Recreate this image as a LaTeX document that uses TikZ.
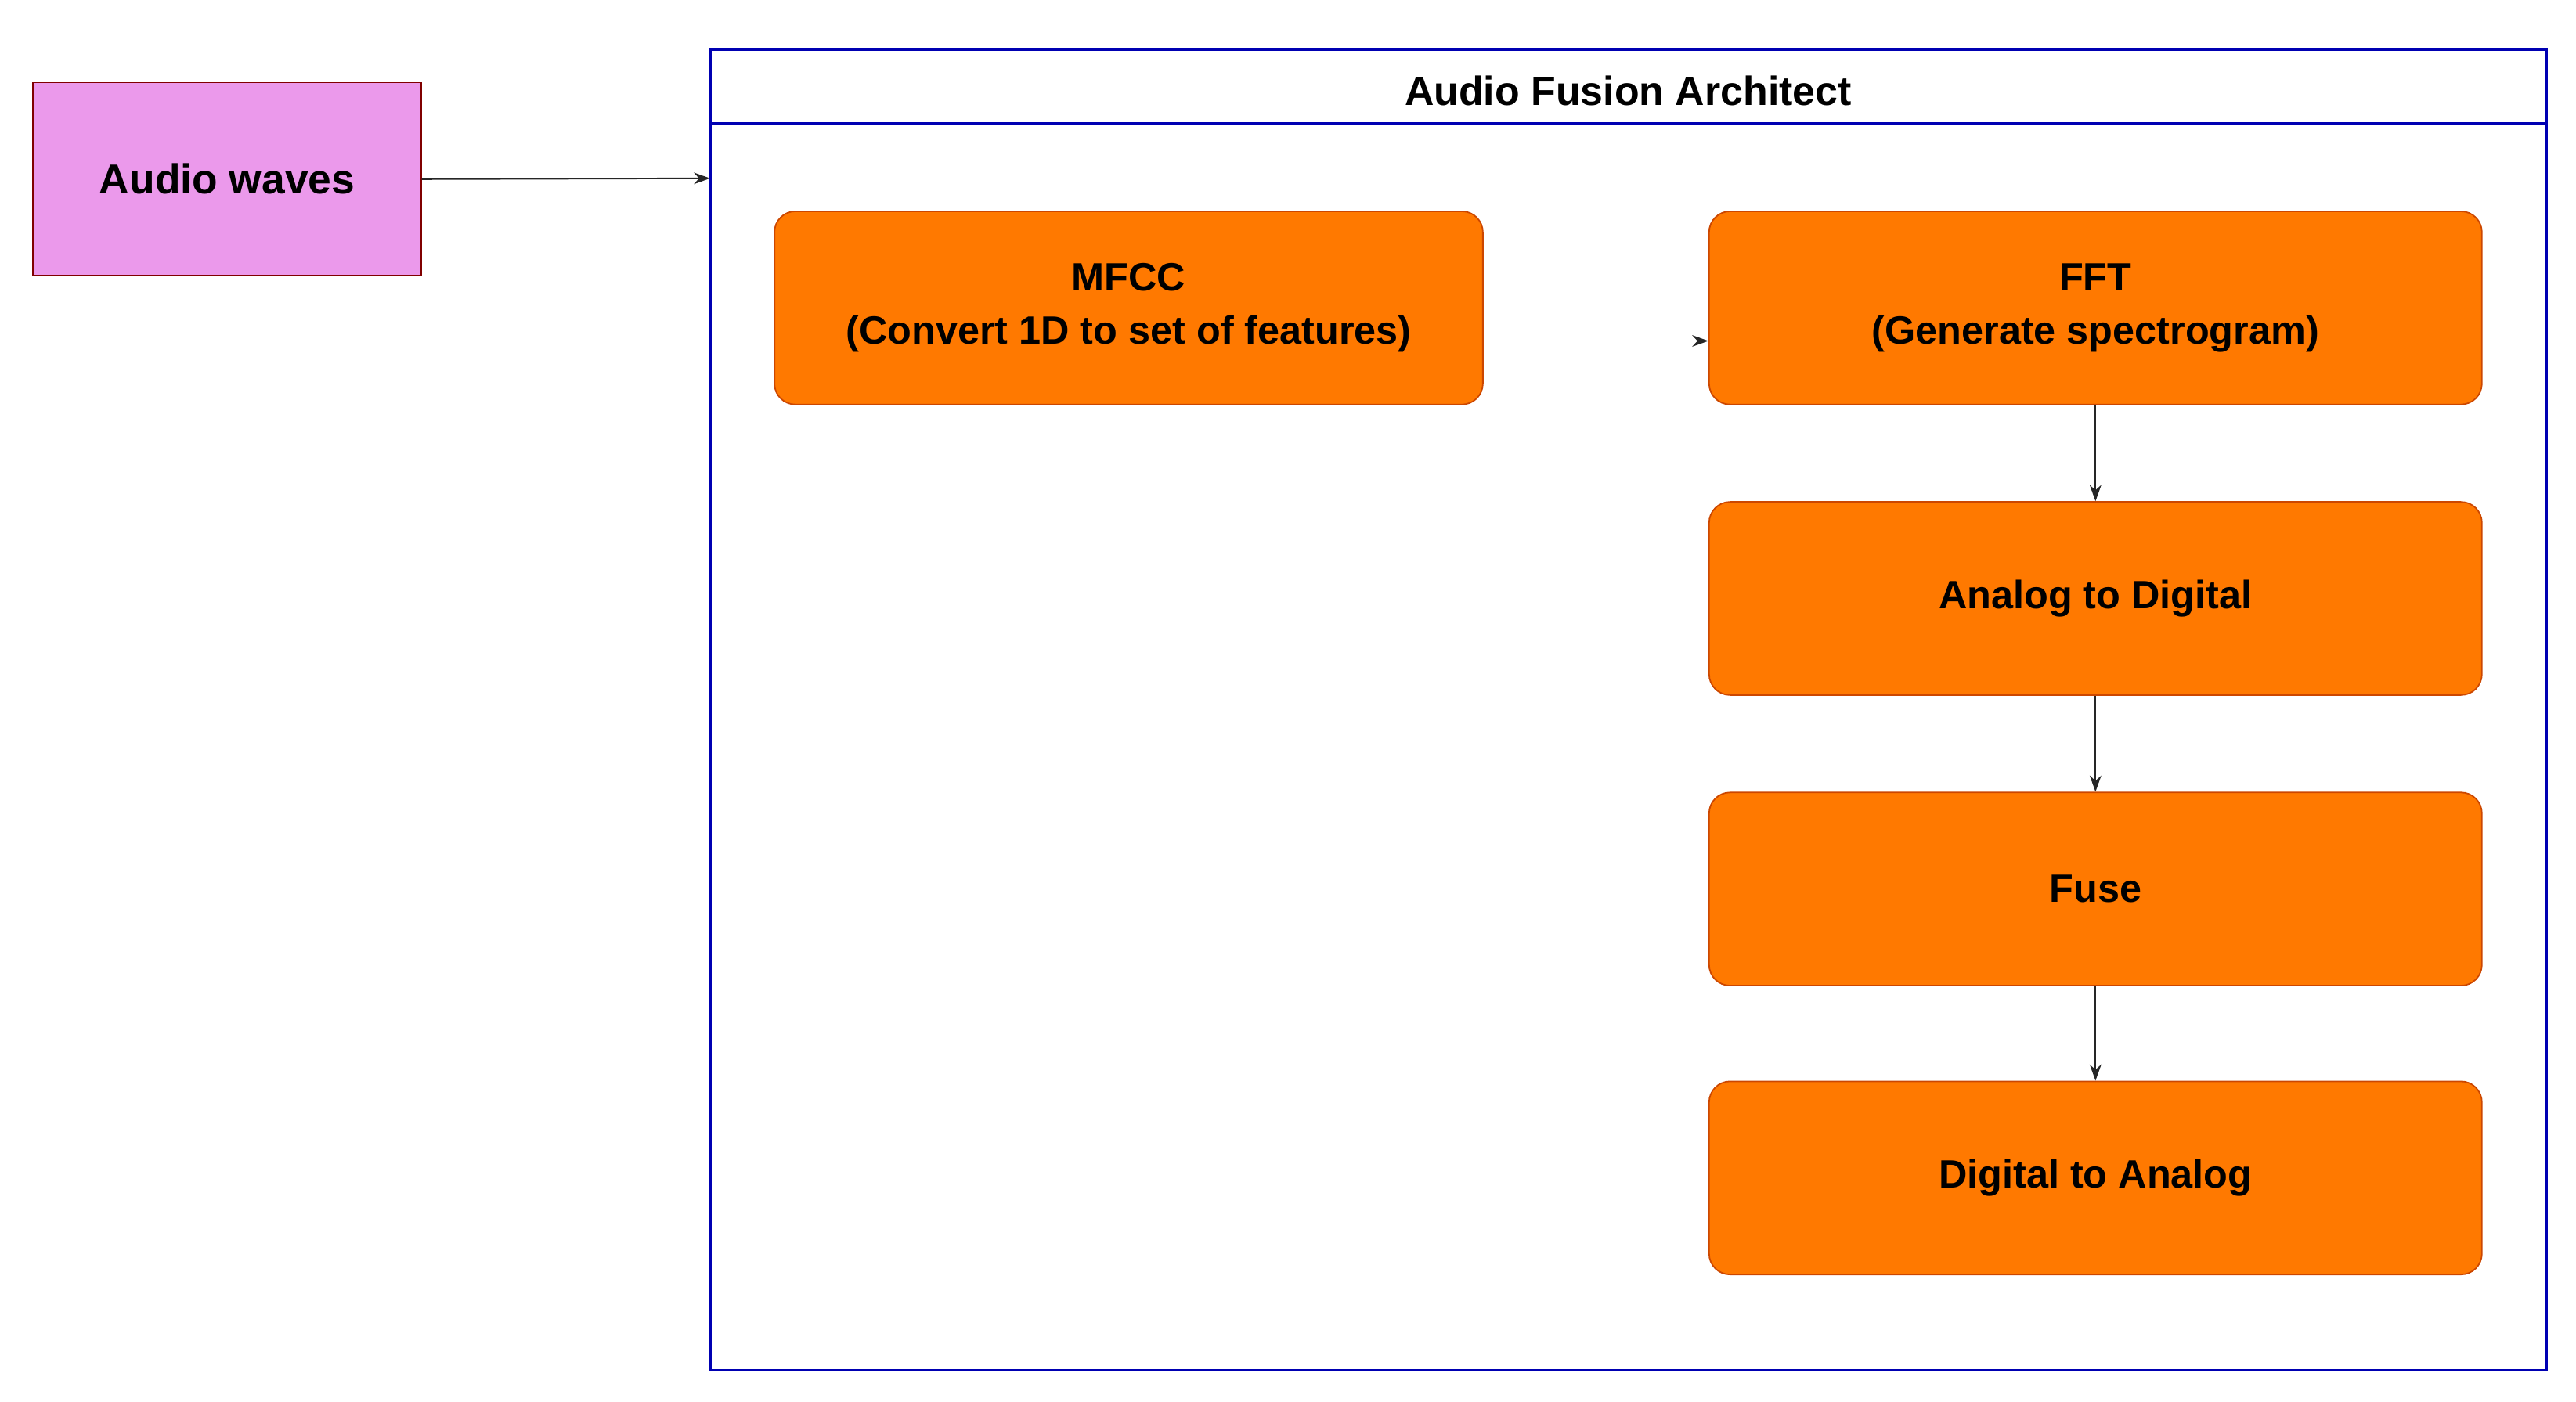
\documentclass[tikz,border=0pt]{standalone}
\usepackage{fontspec}
\setmainfont{Liberation Sans}
\usetikzlibrary{arrows.meta}
\begin{document}
\begin{tikzpicture}[x=0.05cm,y=-0.05cm,
  box/.style={draw=orange!70!red!80!black,fill=orange!95!red!100,line width=1.2pt,rounded corners=18pt,minimum width=468*0.05cm,minimum height=117*0.05cm,align=center,font=\fontsize{34}{46}\selectfont\bfseries,inner sep=0pt},
  arr/.style={-{Stealth[length=14pt,width=10pt]},line width=1.3pt,draw=black!85}]
\useasboundingbox (0,0) rectangle (1560,849);
\node[draw=red!50!black,fill=violet!40!magenta!40,line width=1.2pt,minimum width=235*0.05cm,minimum height=117*0.05cm,font=\fontsize{36}{44}\selectfont\bfseries,inner sep=0pt] (aw) at (137.5,108.5) {Audio waves};
\draw[draw=blue!70!black,line width=2.5pt] (430,30) rectangle (1542,830);
\draw[draw=blue!70!black,line width=2.5pt] (430,75) -- (1542,75);
\node[font=\fontsize{35}{42}\selectfont\bfseries] (title) at (986,55) {Audio Fusion Architect};
\coordinate (cin) at (430,108);
\node[box,minimum width=429*0.05cm] (mfcc) at (683.5,186.5) {MFCC\\(Convert 1D to set of features)};
\node[box] (fft) at (1269,186.5) {FFT\\(Generate spectrogram)};
\node[box] (ad) at (1269,362.5) {Analog to Digital};
\node[box] (fuse) at (1269,538.5) {Fuse};
\node[box] (da) at (1269,713.5) {Digital to Analog};
\draw[arr] (aw.east) -- (cin);
\draw[arr] ([yshift=-20*0.05cm]mfcc.east) -- ([yshift=-20*0.05cm]fft.west);
\draw[arr] (fft) -- (ad);
\draw[arr] (ad) -- (fuse);
\draw[arr] (fuse) -- (da);
\end{tikzpicture}
\end{document}
